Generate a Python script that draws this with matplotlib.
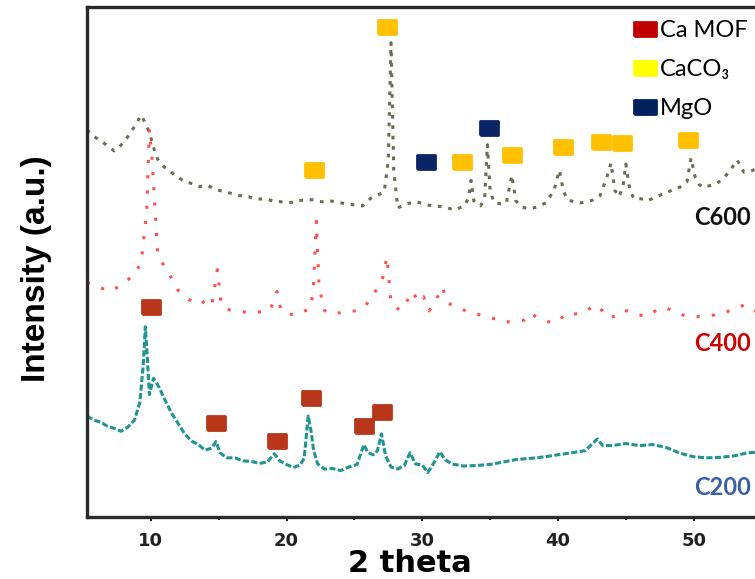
import numpy as np
import matplotlib.pyplot as plt
from matplotlib.lines import Line2D
from matplotlib.markers import MarkerStyle
from matplotlib.font_manager import FontProperties

# XRD patterns (arbitrary intensity units)
c200_x = [5.3, 5.8, 6.3, 6.8, 7.3, 7.8, 8.3, 8.8, 9.2, 9.45, 9.6, 9.75, 9.9, 10.2, 10.6,
          11.0, 11.5, 12.0, 12.5, 13.0, 13.5, 14.0, 14.5, 14.8, 15.1, 15.6, 16.2, 16.8,
          17.4, 18.0, 18.6, 19.1, 19.5, 20.0, 20.5, 21.0, 21.3, 21.6, 21.8, 22.0, 22.3,
          22.8, 23.4, 24.0, 24.6, 25.2, 25.7, 26.0, 26.4, 26.7, 27.0, 27.3, 27.7, 28.2,
          28.7, 29.1, 29.5, 30.0, 30.4, 30.9, 31.3, 31.7, 32.2, 33.0, 34.0, 35.0, 36.0,
          37.0, 38.0, 39.0, 40.0, 41.0, 42.0, 42.9, 43.3, 44.0, 45.0, 46.0, 47.0, 48.0,
          49.0, 50.0, 51.0, 52.0, 53.0, 54.0, 55.4]
c200_y = [19.8, 19.0, 18.6, 17.8, 17.4, 16.8, 17.6, 19.0, 22.5, 30.0, 37.3, 31.0, 24.0, 27.2, 25.5,
          23.2, 20.5, 18.4, 16.3, 14.9, 14.2, 13.1, 13.5, 14.8, 12.6, 11.6, 11.6, 11.0,
          10.9, 10.5, 10.8, 12.4, 11.0, 10.3, 9.7, 10.2, 11.5, 19.8, 17.0, 13.0, 10.4,
          9.4, 9.5, 9.1, 9.8, 10.3, 14.2, 12.6, 12.2, 13.0, 16.3, 12.0, 9.8, 9.4,
          10.2, 12.6, 10.4, 10.2, 8.7, 10.8, 12.8, 11.2, 10.4, 10.0, 10.1, 10.3, 10.8,
          11.3, 11.5, 11.8, 12.2, 12.6, 13.0, 15.3, 14.0, 14.0, 14.4, 14.0, 14.2, 13.6,
          12.5, 11.8, 11.6, 11.7, 12.0, 12.6, 12.8]

c400_x = [5.3, 5.8, 6.3, 6.8, 7.3, 7.8, 8.3, 8.8, 9.3, 9.7, 9.9, 10.1, 10.5, 11.0, 11.5,
          12.0, 12.6, 13.2, 13.6, 14.0, 14.5, 14.9, 15.2, 15.8, 16.4, 16.9, 17.5, 18.2,
          18.8, 19.3, 19.6, 20.2, 20.6, 21.2, 21.8, 22.0, 22.2, 22.4, 22.8, 23.2, 23.8,
          24.4, 25.0, 25.4, 25.8, 26.1, 26.5, 26.8, 27.1, 27.4, 27.7, 28.0, 28.3, 28.8,
          29.3, 29.7, 30.1, 30.5, 31.0, 31.5, 31.8, 32.2, 32.6, 33.2, 34.0, 34.6, 35.4,
          36.0, 36.8, 37.5, 38.0, 38.4, 39.0, 39.6, 40.2, 40.7, 41.2, 41.9, 42.7, 43.3,
          43.8, 44.4, 44.9, 45.4, 46.0, 46.6, 47.4, 48.0, 48.6, 49.2, 50.0, 50.8, 51.5,
          52.2, 52.8, 53.3, 53.7, 54.3, 55.4]
c400_y = [46.0, 45.6, 45.0, 44.3, 44.6, 45.6, 46.5, 47.5, 50.0, 60.0, 76.0, 70.0, 52.0, 49.0, 47.0,
          44.5, 43.0, 42.0, 41.6, 42.4, 41.5, 48.5, 41.5, 40.6, 40.5, 40.2, 40.0, 40.3,
          40.6, 44.2, 40.4, 39.8, 39.6, 40.2, 41.0, 46.0, 58.0, 45.0, 40.5, 39.8, 40.0,
          40.2, 40.4, 40.6, 41.4, 42.4, 44.0, 45.5, 47.0, 51.0, 42.0, 41.5, 40.5, 42.0,
          44.2, 42.2, 43.2, 40.4, 42.5, 45.1, 42.2, 41.5, 41.2, 40.4, 39.8, 39.4, 38.8,
          38.2, 38.4, 38.6, 40.0, 39.2, 38.6, 38.0, 38.9, 40.0, 39.8, 40.0, 41.6, 40.4,
          39.0, 39.6, 40.6, 40.0, 39.6, 39.4, 40.8, 41.0, 40.2, 39.6, 39.2, 39.4, 39.6,
          40.0, 40.6, 41.0, 41.6, 40.6, 39.6]

c600_x = [5.3, 5.8, 6.3, 6.8, 7.3, 7.7, 8.1, 8.5, 8.9, 9.3, 9.6, 9.9, 10.2, 10.5, 11.0,
          11.5, 12.0, 12.5, 13.0, 13.6, 14.2, 14.8, 15.4, 16.0, 16.6, 17.2, 17.8, 18.4,
          19.0, 19.6, 20.2, 20.8, 21.4, 22.0, 22.6, 23.2, 23.8, 24.4, 25.0, 25.6, 26.2,
          26.8, 27.2, 27.5, 27.7, 27.9, 28.2, 28.8, 29.6, 30.3, 30.9, 31.6, 32.4, 33.1,
          33.4, 33.6, 33.8, 34.3, 34.6, 34.8, 35.0, 35.3, 35.8, 36.2, 36.6, 36.9, 37.3,
          37.9, 38.5, 39.1, 39.7, 40.1, 40.4, 40.7, 41.2, 41.7, 42.2, 42.6, 43.1, 43.6,
          43.9, 44.2, 44.5, 44.8, 45.0, 45.3, 45.6, 46.1, 46.6, 47.1, 47.6, 48.0, 48.5,
          49.0, 49.5, 49.8, 50.1, 50.4, 50.7, 51.2, 51.7, 52.2, 52.7, 53.2, 53.7, 54.2,
          54.7, 55.4]
c600_y = [75.9, 74.6, 73.8, 72.8, 71.8, 72.6, 73.8, 75.3, 77.0, 78.8, 77.2, 75.4, 72.5, 70.2, 68.6,
          67.6, 66.6, 65.8, 65.4, 64.8, 65.0, 64.2, 63.8, 63.4, 63.0, 62.8, 62.3, 62.4,
          62.0, 61.8, 61.6, 62.0, 62.2, 62.2, 61.8, 62.0, 61.7, 61.4, 61.2, 61.0, 62.5,
          63.2, 63.8, 70.0, 93.0, 68.0, 60.6, 61.4, 61.8, 61.2, 61.0, 60.8, 60.2, 61.0,
          62.5, 66.0, 62.0, 61.0, 62.5, 73.0, 64.0, 61.6, 61.4, 61.6, 67.0, 62.0, 60.8,
          60.4, 60.8, 61.6, 64.0, 68.0, 64.0, 62.2, 61.8, 61.6, 61.8, 62.2, 63.0, 66.6,
          69.4, 64.0, 62.8, 65.0, 69.2, 64.0, 62.4, 62.4, 62.0, 62.6, 63.2, 63.6, 64.2,
          64.7, 65.7, 70.4, 66.7, 65.2, 64.6, 65.0, 65.4, 66.4, 68.0, 70.0, 67.6, 67.8,
          68.4, 68.6]

# phase markers (position, height)
camof_x = [10.0, 14.8, 19.3, 21.8, 25.7, 27.0]
camof_y = [41.2, 18.4, 14.9, 23.3, 17.8, 20.6]
caco3_x = [27.4, 22.0, 32.9, 36.6, 40.4, 43.2, 44.7, 49.6]
caco3_y = [96.1, 68.0, 69.6, 71.0, 72.5, 73.5, 73.3, 73.9]
mgo_x = [30.3, 34.9]
mgo_y = [69.6, 76.3]

sample_names = ['C600', 'C400', 'C200']
sample_label_y = [58.8, 34.1, 5.7]
sample_label_colors = ['#111111', '#cc0000', '#3a5ea8']

phase_names = ['Ca MOF', 'CaCO\u2083', 'MgO']
phase_legend_colors = ['#c00000', '#ffff00', '#002060']

fig = plt.figure(figsize=(7.55, 5.79), dpi=100)
ax = fig.add_axes([0.1152, 0.1071, 0.9007, 0.8808])

ax.plot(c600_x, c600_y, color='#6b6b55', lw=2.2, linestyle=(0, (1.2, 2.2)))
ax.plot(c400_x, c400_y, color='#ff4f4f', lw=2.2, linestyle=(0, (1.0, 4.0)))
ax.plot(c200_x, c200_y, color='#1f9490', lw=2.2, linestyle=(0, (2.0, 0.8)))

box = MarkerStyle([(-1.15, -0.9), (1.15, -0.9), (1.15, 0.9), (-1.15, 0.9), (-1.15, -0.9)],
                  joinstyle='round')
ax.plot(camof_x, camof_y, ls='none', marker=box, ms=12.5, mew=2,
        mfc='#b8361a', mec='#b8361a')
ax.plot(caco3_x, caco3_y, ls='none', marker=box, ms=12.5, mew=2,
        mfc='#ffc000', mec='#ffc000')
ax.plot(mgo_x, mgo_y, ls='none', marker=box, ms=12.5, mew=2,
        mfc='#0a2464', mec='#0a2464')

for name, yy, col in zip(sample_names, sample_label_y, sample_label_colors):
    ax.text(54.2, yy, name, color=col, fontsize=17, fontweight='bold',
            family='Lato', ha='right', va='center')

wide_box = MarkerStyle([(-1.4, -0.9), (1.4, -0.9), (1.4, 0.9), (-1.4, 0.9), (-1.4, -0.9)],
                       joinstyle='round')
handles = [Line2D([], [], ls='none', marker=wide_box, ms=16, mew=2, mfc=c, mec=c)
           for c in phase_legend_colors]
ax.legend(handles, phase_names, loc='upper left', bbox_to_anchor=(0.823, 0.985),
          bbox_transform=fig.transFigure, frameon=False, borderpad=0,
          handlelength=1.0, handletextpad=0.15, labelspacing=0.76,
          prop=FontProperties(family=['Lato', 'DejaVu Sans'], size=17))

ax.set_xlim(5.3, 55.4)
ax.set_ylim(0, 100)
ax.set_yticks([])
ax.set_xticks([10, 20, 30, 40, 50])
ax.set_xticks([15, 25, 35, 45], minor=True)
ax.tick_params(axis='x', which='major', direction='out', length=3, width=1.5,
               pad=8, labelsize=13, colors='#222222')
ax.tick_params(axis='x', which='minor', direction='out', length=2, width=1.5)
for lab in ax.get_xticklabels():
    lab.set_fontweight('bold')
for s in ax.spines.values():
    s.set_linewidth(2.4)
    s.set_color('#2a2a2a')

ax.set_xlabel('2 theta', fontsize=22, fontweight='bold')
ax.xaxis.set_label_coords(0.475, -0.062)
ax.set_ylabel('Intensity (a.u.)', fontsize=24, fontweight='bold', family='Liberation Sans')
ax.yaxis.set_label_coords(-0.052, 0.487)

fig.savefig('out.png', dpi=100)
